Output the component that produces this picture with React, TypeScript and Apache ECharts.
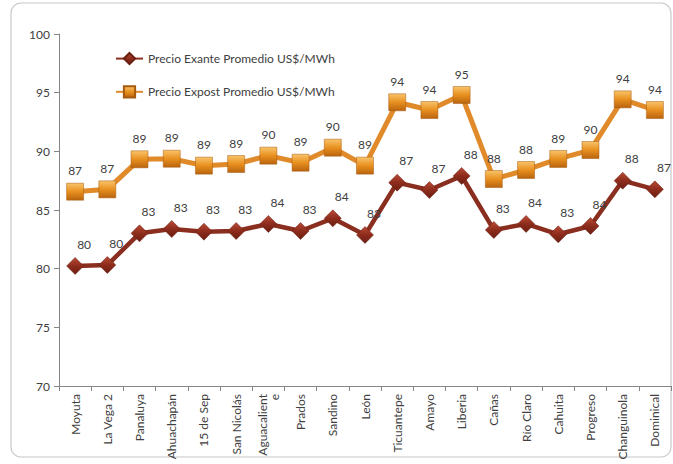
import React, { useEffect, useRef } from "react";
import * as echarts from "echarts";

const categories = [
  "Moyuta", "La Vega 2", "Panaluya", "Ahuachapán", "15 de Sep", "San Nicolás",
  "Aguacaliente", "Prados", "Sandino", "León", "Ticuantepe", "Amayo", "Liberia",
  "Cañas", "Río Claro", "Cahuita", "Progreso", "Changuinola", "Dominical",
];
const exante = [80.23, 80.31, 83.01, 83.38, 83.15, 83.21, 83.81, 83.21, 84.29, 82.87,
  87.33, 86.7, 87.9, 83.3, 83.81, 82.93, 83.64, 87.5, 86.76];
const expost = [86.56, 86.76, 89.32, 89.37, 88.78, 88.92, 89.63, 89.03, 90.31, 88.78,
  94.18, 93.52, 94.8, 87.64, 88.41, 89.35, 90.11, 94.43, 93.52];
const seriesNames = ["Precio Exante Promedio US$/MWh", "Precio Expost Promedio US$/MWh"];
const yMin = 70, yMax = 100, yStep = 5;

const FONT = "Lato, 'Open Sans', sans-serif";
const TXT = "#404040";
const FS = 12;

export default function App() {
  const ref = useRef<HTMLDivElement>(null);
  useEffect(() => {
    const chart = echarts.init(ref.current!, null, { renderer: "svg" });
    const sqGrad = new echarts.graphic.LinearGradient(0, 0, 0, 1, [
      { offset: 0, color: "#F9C46A" },
      { offset: 0.5, color: "#E8901F" },
      { offset: 1, color: "#B9640F" },
    ]);
    const dmGrad = new echarts.graphic.LinearGradient(0, 0, 0, 1, [
      { offset: 0, color: "#B84A35" },
      { offset: 0.5, color: "#8E2C1C" },
      { offset: 1, color: "#6A1E12" },
    ]);
    chart.setOption({
      animation: false,
      textStyle: { fontFamily: FONT },
      graphic: [
        {
          type: "rect",
          shape: { x: 11, y: 3, width: 660, height: 454, r: 10 },
          style: { fill: "none", stroke: "#C8C8C8", lineWidth: 1.2 },
          silent: true,
          z: -1,
        },
      ],
      legend: {
        orient: "vertical",
        left: 110,
        top: 47,
        itemGap: 20,
        itemWidth: 27,
        itemHeight: 14,
        textStyle: { fontSize: FS, color: TXT, fontFamily: FONT },
        data: seriesNames,
      },
      grid: { left: 59, right: 2, top: 34, bottom: 78, containLabel: false },
      xAxis: {
        type: "category",
        data: categories,
        boundaryGap: true,
        axisLine: { lineStyle: { color: "#868686" } },
        axisTick: { show: true, alignWithLabel: false, length: 5, lineStyle: { color: "#868686" } },
        axisLabel: {
          rotate: 90,
          interval: 0,
          fontSize: FS,
          color: TXT,
          margin: 8,
          fontFamily: FONT,
          formatter: (v: string) => (v === "Aguacaliente" ? "Aguacalient\ne" : v),
        },
      },
      yAxis: {
        type: "value",
        min: yMin,
        max: yMax,
        interval: yStep,
        splitLine: { show: false },
        axisLine: { show: true, lineStyle: { color: "#868686" } },
        axisTick: { show: true, length: 5, lineStyle: { color: "#868686" } },
        axisLabel: { fontSize: FS, color: TXT, margin: 9, fontFamily: FONT },
      },
      series: [
        {
          name: seriesNames[0],
          type: "line",
          data: exante,
          symbol: "diamond",
          symbolSize: 17,
          lineStyle: { color: "#8A2E1F", width: 4.5 },
          itemStyle: { color: dmGrad, borderColor: "#6A1E12", borderWidth: 0.5 },
          z: 3,
          label: {
            show: true,
            position: "top",
            distance: 7,
            offset: [9, 0],
            fontSize: FS,
            color: TXT,
            fontFamily: FONT,
            formatter: (p: any) => String(Math.round(p.value)),
          },
        },
        {
          name: seriesNames[1],
          type: "line",
          data: expost,
          symbol: "rect",
          symbolSize: 17,
          lineStyle: { color: "#E08A2A", width: 5 },
          itemStyle: { color: sqGrad, borderColor: "#A65A10", borderWidth: 0.5 },
          z: 2,
          label: {
            show: true,
            position: "top",
            distance: 6,
            fontSize: FS,
            color: TXT,
            fontFamily: FONT,
            formatter: (p: any) => String(Math.round(p.value)),
          },
        },
      ],
    });
    return () => chart.dispose();
  }, []);
  return (
    <div
      ref={ref}
      style={{ position: "absolute", left: 0, top: 0, width: 673, height: 464, background: "#fff" }}
    />
  );
}
